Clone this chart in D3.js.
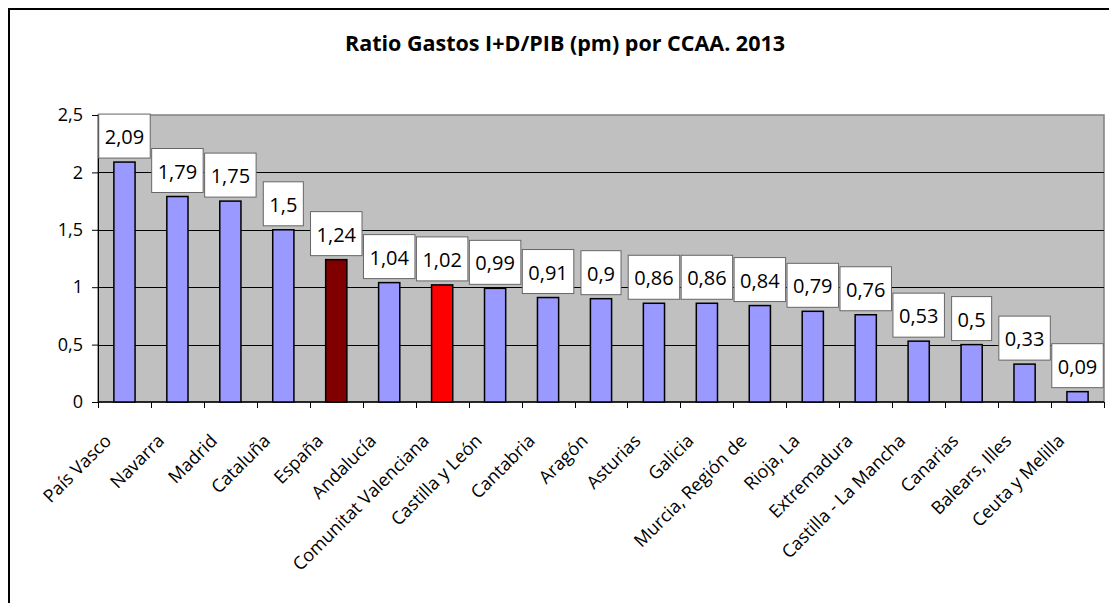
<!DOCTYPE html>
<html>
<head>
<meta charset="utf-8">
<script src="https://cdn.jsdelivr.net/npm/d3@7"></script>
<style>
  body { margin: 0; background: #fff; }
  svg { display: block; font-family: "Open Sans", sans-serif; }
</style>
</head>
<body>
<script>
// chart data
const regions = ["País Vasco", "Navarra", "Madrid", "Cataluña", "España", "Andalucía",
  "Comunitat Valenciana", "Castilla y León", "Cantabria", "Aragón", "Asturias", "Galicia",
  "Murcia, Región de", "Rioja, La", "Extremadura", "Castilla - La Mancha", "Canarias",
  "Balears, Illes", "Ceuta y Melilla"];
const ratios = [2.09, 1.79, 1.75, 1.5, 1.24, 1.04, 1.02, 0.99, 0.91, 0.9, 0.86, 0.86,
  0.84, 0.79, 0.76, 0.53, 0.5, 0.33, 0.09];
const yTicks = [0, 0.5, 1, 1.5, 2, 2.5];
const title = "Ratio Gastos I+D/PIB (pm) por CCAA. 2013";

const data = regions.map(function (r, i) { return { name: r, value: ratios[i] }; });

const W = 1109, H = 603;
const margin = { top: 115, right: 5, bottom: 201, left: 98 };

// comma as decimal mark
const es = d3.formatLocale({ decimal: ",", thousands: ".", grouping: [3], currency: ["", " €"] });
const fmt = es.format("~g");

function barColor(d) {
  if (d.name === "España") return "#800000";
  if (d.name === "Comunitat Valenciana") return "#ff0000";
  return "#9999ff";
}

const svg = d3.select("body").append("svg")
  .attr("width", W)
  .attr("height", H);

// outer chart border
svg.append("rect")
  .attr("x", 9).attr("y", 9)
  .attr("width", W + 20).attr("height", H + 20)
  .attr("fill", "#fff")
  .attr("stroke", "#000")
  .attr("stroke-width", 2);

svg.append("text")
  .attr("x", 565)
  .attr("y", 51)
  .attr("text-anchor", "middle")
  .style("font-size", "21.5px")
  .style("font-weight", "bold")
  .text(title);

const x = d3.scaleBand()
  .domain(regions)
  .range([margin.left, W - margin.right])
  .paddingInner(0.6)
  .paddingOuter(0.3);

const y = d3.scaleLinear()
  .domain([0, 2.5])
  .range([H - margin.bottom, margin.top]);

// plot area
svg.append("rect")
  .attr("x", margin.left)
  .attr("y", y(2.5))
  .attr("width", W - margin.right - margin.left)
  .attr("height", y(0) - y(2.5))
  .attr("fill", "#c0c0c0")
  .attr("stroke", "#808080")
  .attr("stroke-width", 1.5);

// gridlines
svg.append("g")
  .selectAll("line")
  .data(yTicks.slice(1, -1))
  .enter().append("line")
  .attr("x1", margin.left)
  .attr("x2", W - margin.right)
  .attr("y1", function (d) { return Math.round(y(d)) + 0.5; })
  .attr("y2", function (d) { return Math.round(y(d)) + 0.5; })
  .attr("stroke", "#000")
  .attr("stroke-width", 1);

// y axis
const yAxis = svg.append("g")
  .attr("transform", "translate(" + margin.left + ",0)")
  .call(d3.axisLeft(y).tickValues(yTicks).tickFormat(fmt).tickSize(6).tickPadding(9));
yAxis.select(".domain").attr("stroke", "#000");
yAxis.selectAll("text").style("font-size", "18px").attr("fill", "#000")
  .style("font-family", "'Open Sans', sans-serif");

// x axis line + ticks between categories
const bounds = regions.map(function (r) { return x(r) + x.bandwidth() / 2 - x.step() / 2; });
bounds.push(x(regions[regions.length - 1]) + x.bandwidth() / 2 + x.step() / 2);
svg.append("line")
  .attr("x1", margin.left).attr("x2", W - margin.right)
  .attr("y1", y(0)).attr("y2", y(0))
  .attr("stroke", "#000").attr("stroke-width", 1.5);
svg.append("g")
  .selectAll("line")
  .data(bounds)
  .enter().append("line")
  .attr("x1", function (d) { return Math.round(d) + 0.5; })
  .attr("x2", function (d) { return Math.round(d) + 0.5; })
  .attr("y1", y(0))
  .attr("y2", y(0) + 6)
  .attr("stroke", "#000");

// bars
svg.append("g")
  .selectAll("rect")
  .data(data)
  .enter().append("rect")
  .attr("x", function (d) { return x(d.name); })
  .attr("y", function (d) { return y(d.value); })
  .attr("width", x.bandwidth())
  .attr("height", function (d) { return y(0) - y(d.value); })
  .attr("fill", barColor)
  .attr("stroke", "#000")
  .attr("stroke-width", 1.5);

// value labels in boxes
const lab = svg.append("g")
  .selectAll("g")
  .data(data)
  .enter().append("g")
  .attr("transform", function (d) {
    return "translate(" + (x(d.name) + x.bandwidth() / 2) + "," + (y(d.value) - 4) + ")";
  });
lab.append("rect");
lab.append("text")
  .attr("text-anchor", "middle")
  .attr("y", -21)
  .attr("dy", "0.35em")
  .style("font-size", "20px")
  .text(function (d) { return fmt(d.value); });
lab.each(function () {
  const g = d3.select(this);
  const w = g.select("text").node().getComputedTextLength() + 12;
  g.select("rect")
    .attr("x", -w / 2).attr("y", -44)
    .attr("width", w).attr("height", 44)
    .attr("fill", "#fff")
    .attr("stroke", "#666")
    .attr("stroke-width", 1);
});

// category labels
svg.append("g")
  .selectAll("text")
  .data(regions)
  .enter().append("text")
  .attr("transform", function (d) {
    return "translate(" + (x(d) + x.bandwidth() / 2 - 12) + "," + (y(0) + 40) + ") rotate(-45)";
  })
  .attr("text-anchor", "end")
  .style("font-size", "18px")
  .text(function (d) { return d; });
</script>
</body>
</html>
